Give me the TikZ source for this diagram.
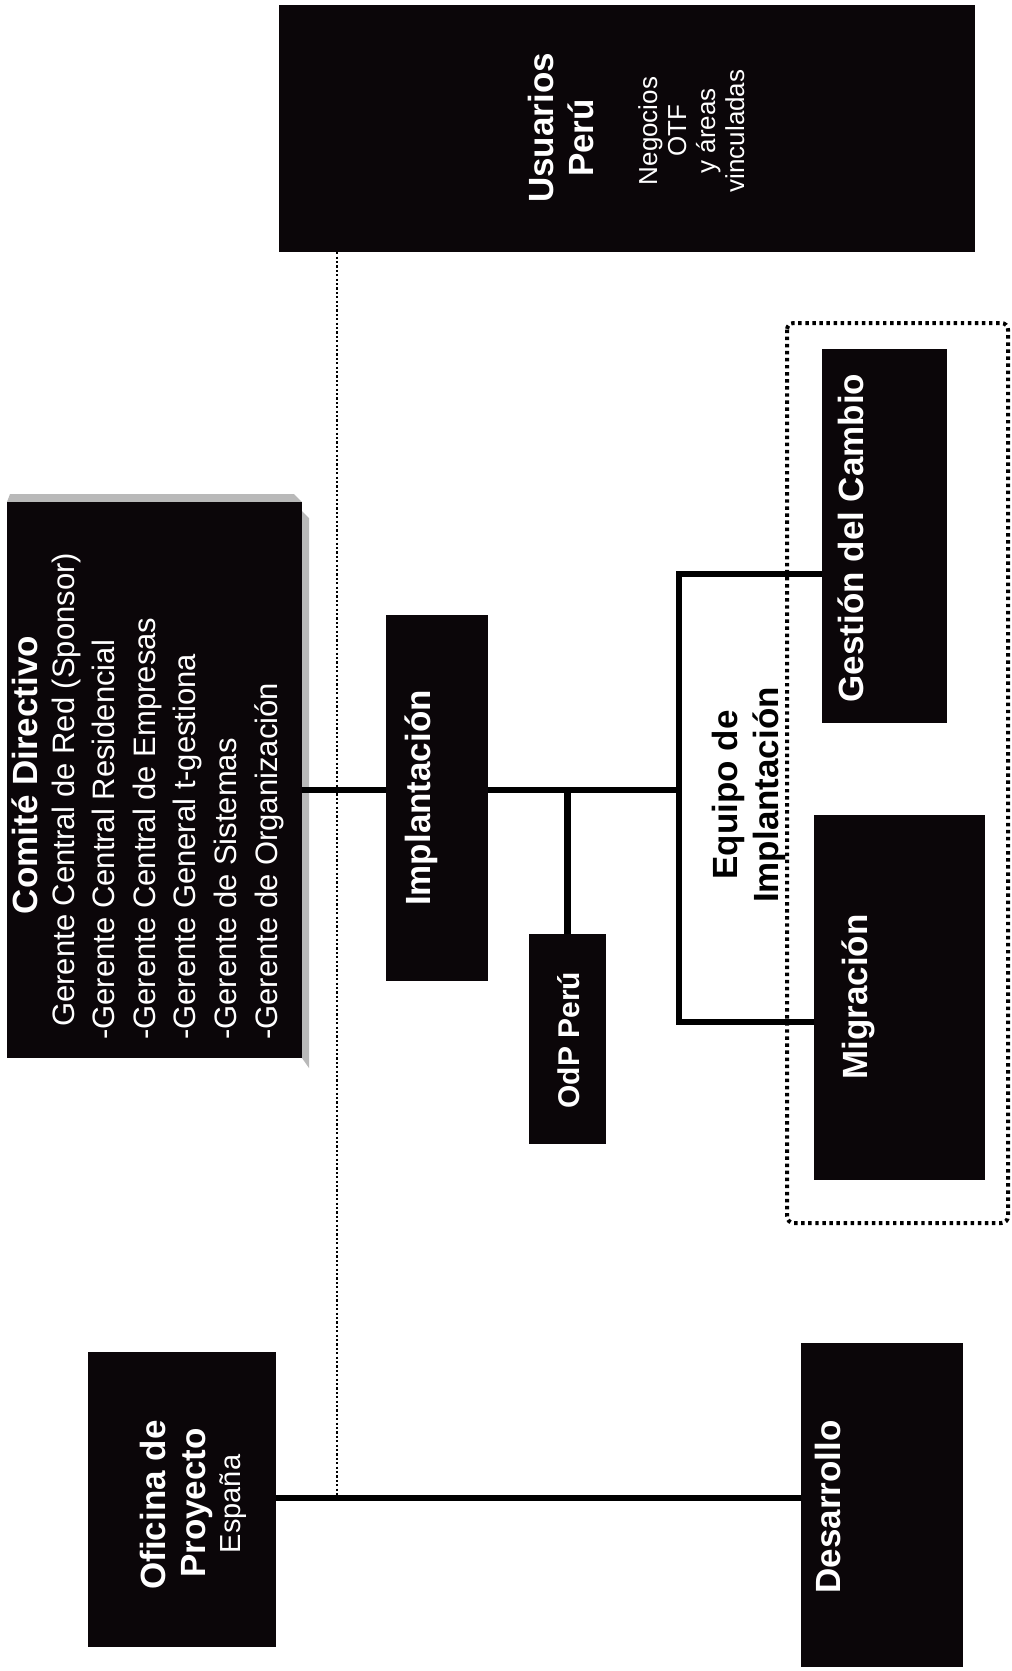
\documentclass[tikz,border=0pt]{standalone}
\usepackage{fontspec}
\setmainfont{Liberation Sans}
\usetikzlibrary{fit}
\definecolor{boxblack}{HTML}{0B0609}

\tikzset{
	box/.style={fill=boxblack, inner sep=0pt},
	vtxt/.style={rotate=90, anchor=base, inner sep=0pt, text=white},
	vbold/.style={vtxt, font=\bfseries\fontsize{26.25}{30}\selectfont},
	vreg/.style={vtxt, font=\fontsize{23.25}{28}\selectfont},
	vsmall/.style={vtxt, font=\fontsize{19.5}{23}\selectfont},
	link/.style={line width=4.6pt},
	dotline/.style={line width=1.8pt, dash pattern={on 1.6pt off 1.7pt}},
	dotbox/.style={line width=3pt, dash pattern={on 2.6pt off 2.7pt}, rounded corners=5pt},
}

\begin{document}
\begin{tikzpicture}[x=0.75pt,y=0.75pt,yscale=-1,xscale=1]
		\useasboundingbox (0,0) rectangle (1011,1671);
		% boxes
		\node (usu) [box, fit={(279,5) (975,252)}] {};
		\fill [gray!55] (10,494) -- (294,494) -- (302,502) -- (7,502) -- cycle;
		\fill [gray!55] (302,511) -- (309,518) -- (309,1068) -- (302,1058) -- cycle;
		\node (comite) [box, fit={(7,502) (302,1058)}] {};
		\node (impl) [box, fit={(386,615) (488,981)}] {};
		\node (odp) [box, fit={(529,934) (606,1144)}] {};
		\node (gestion) [box, fit={(822,349) (947,723)}] {};
		\node (migra) [box, fit={(814,815) (985,1180)}] {};
		\node (ofi) [box, fit={(88,1352) (276,1647)}] {};
		\node (desa) [box, fit={(801,1343) (963,1667)}] {};
		\draw [dotbox] (787,323) rectangle (1008,1223);
		% connectors
		\coordinate (hub) at (679,790);
		\coordinate (brTop) at (679,574);
		\coordinate (brBot) at (679,1022);
		\coordinate (bus) at (540,1498);
		\coordinate (dotEnd) at (337,1495);
		\draw [dotline] (usu.south -| dotEnd) -- (dotEnd);
		\draw [link] (comite.east |- hub) -- (impl.west |- hub);
		\draw [link] (impl.east |- hub) -- (hub);
		\draw [link] (odp.north) -- (odp.north |- hub);
		\draw [link] (gestion.west |- brTop) -- (brTop) -- (brBot) -- (migra.west |- brBot);
		\draw [link] (ofi.east |- bus) -- (desa.west |- bus);
		% labels
		\node (usuT) [vbold] at (553,128) {Usuarios};
		\node (peruT) [vbold] at (593,138) {Perú};
		\node (negT) [vsmall] at (657,131) {Negocios};
		\node (otfT) [vsmall] at (686,131) {OTF};
		\node (areT) [vsmall] at (715,131) {y áreas};
		\node (vinT) [vsmall] at (744,131) {vinculadas};
		\node (comiteT) [vbold] at (37,775) {Comité Directivo};
		\foreach \i/\xb/\ys/\txt in {1/74/1027/Gerente Central de Red (Sponsor),
				2/114/1040/-Gerente Central Residencial, 3/155/1040/-Gerente Central de Empresas,
				4/195/1040/-Gerente General t-gestiona, 5/236/1040/-Gerente de Sistemas,
				6/277/1040/-Gerente de Organización}
			\node (ger\i) [vreg, anchor=base west] at (\xb,\ys) {\txt};
		\node (implT) [vbold] at (430,798) {Implantación};
		\node (odpT) [vbold, font=\bfseries\fontsize{22.5}{26}\selectfont] at (579,1040) {OdP Perú};
		\node (eqT1) [vbold, text=black] at (737,795) {Equipo de};
		\node (eqT2) [vbold, text=black] at (778,795) {Implantación};
		\node (gestionT) [vbold] at (863,538) {Gestión del Cambio};
		\node (migraT) [vbold] at (867,997) {Migración};
		\node (ofiT1) [vbold] at (165,1505) {Oficina de};
		\node (ofiT2) [vbold] at (205,1503) {Proyecto};
		\node (ofiT3) [vtxt, font=\fontsize{21.75}{26}\selectfont] at (240,1504) {España};
		\node (desaT) [vbold] at (840,1507) {Desarrollo};
\end{tikzpicture}
\end{document}
